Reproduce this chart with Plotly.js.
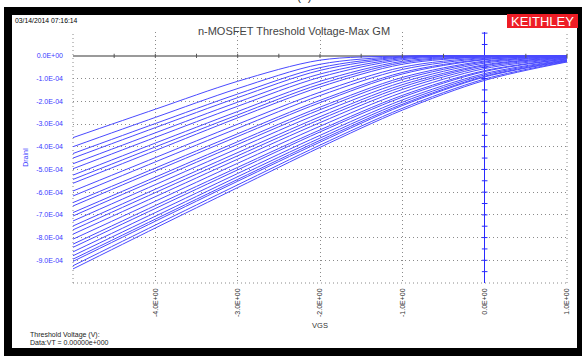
<!DOCTYPE html>
<html>
<head>
<meta charset="utf-8">
<script src="https://cdn.plot.ly/plotly-3.0.1.min.js"></script>
<style>html,body{margin:0;padding:0;background:#fff;}#chart{width:582px;height:356px;}</style>
</head>
<body>
<div id="chart"></div>
<script>
// ---- data ----
const vgs = [-5, -4, -3, -2, -1, 0, 1];
const drainCurves = [
  [-3.60e-4, -2.35e-4, -1.12e-4, -0.19e-4, -0.01e-4, 0, 0],
  [-4.00e-4, -2.71e-4, -1.44e-4, -0.37e-4, -0.03e-4, 0, 0],
  [-4.30e-4, -2.98e-4, -1.68e-4, -0.52e-4, -0.05e-4, 0, 0],
  [-4.50e-4, -3.16e-4, -1.84e-4, -0.64e-4, -0.08e-4, -0.01e-4, 0],
  [-4.75e-4, -3.39e-4, -2.04e-4, -0.80e-4, -0.12e-4, -0.01e-4, 0],
  [-4.97e-4, -3.59e-4, -2.22e-4, -0.94e-4, -0.17e-4, -0.02e-4, 0],
  [-5.25e-4, -3.84e-4, -2.45e-4, -1.12e-4, -0.24e-4, -0.03e-4, 0],
  [-5.44e-4, -4.01e-4, -2.60e-4, -1.25e-4, -0.30e-4, -0.04e-4, 0],
  [-5.61e-4, -4.17e-4, -2.73e-4, -1.37e-4, -0.37e-4, -0.05e-4, -0.01e-4],
  [-5.95e-4, -4.48e-4, -3.01e-4, -1.60e-4, -0.50e-4, -0.08e-4, -0.01e-4],
  [-6.17e-4, -4.67e-4, -3.19e-4, -1.75e-4, -0.60e-4, -0.11e-4, -0.01e-4],
  [-6.46e-4, -4.94e-4, -3.43e-4, -1.96e-4, -0.73e-4, -0.15e-4, -0.02e-4],
  [-6.61e-4, -5.07e-4, -3.55e-4, -2.06e-4, -0.80e-4, -0.17e-4, -0.03e-4],
  [-6.90e-4, -5.34e-4, -3.78e-4, -2.26e-4, -0.95e-4, -0.23e-4, -0.03e-4],
  [-7.05e-4, -5.47e-4, -3.90e-4, -2.37e-4, -1.04e-4, -0.27e-4, -0.04e-4],
  [-7.27e-4, -5.67e-4, -4.08e-4, -2.52e-4, -1.16e-4, -0.32e-4, -0.05e-4],
  [-7.49e-4, -5.87e-4, -4.26e-4, -2.68e-4, -1.27e-4, -0.39e-4, -0.06e-4],
  [-7.66e-4, -6.02e-4, -4.40e-4, -2.80e-4, -1.37e-4, -0.43e-4, -0.07e-4],
  [-7.85e-4, -6.20e-4, -4.55e-4, -2.94e-4, -1.48e-4, -0.49e-4, -0.09e-4],
  [-8.07e-4, -6.40e-4, -4.73e-4, -3.10e-4, -1.61e-4, -0.56e-4, -0.11e-4],
  [-8.29e-4, -6.59e-4, -4.91e-4, -3.26e-4, -1.74e-4, -0.65e-4, -0.13e-4],
  [-8.43e-4, -6.72e-4, -5.02e-4, -3.35e-4, -1.82e-4, -0.69e-4, -0.14e-4],
  [-8.63e-4, -6.90e-4, -5.18e-4, -3.50e-4, -1.94e-4, -0.78e-4, -0.17e-4],
  [-8.80e-4, -7.06e-4, -5.32e-4, -3.62e-4, -2.04e-4, -0.84e-4, -0.19e-4],
  [-8.95e-4, -7.19e-4, -5.44e-4, -3.72e-4, -2.13e-4, -0.90e-4, -0.21e-4],
  [-9.05e-4, -7.28e-4, -5.52e-4, -3.80e-4, -2.19e-4, -0.93e-4, -0.23e-4],
  [-9.24e-4, -7.45e-4, -5.68e-4, -3.93e-4, -2.31e-4, -1.02e-4, -0.25e-4],
  [-9.38e-4, -7.58e-4, -5.80e-4, -4.03e-4, -2.39e-4, -1.08e-4, -0.27e-4]
];
const xTickVals = [-4, -3, -2, -1, 0, 1];
const xTickText = ['-4.0E+00', '-3.0E+00', '-2.0E+00', '-1.0E+00', '0.0E+00', '1.0E+00'];
const yTickVals = [0, -1e-4, -2e-4, -3e-4, -4e-4, -5e-4, -6e-4, -7e-4, -8e-4, -9e-4];
const yTickText = ['0.0E+00', '-1.0E-04', '-2.0E-04', '-3.0E-04', '-4.0E-04', '-5.0E-04', '-6.0E-04', '-7.0E-04', '-8.0E-04', '-9.0E-04'];
const zeroLineTickV = [-4.5, -4, -3.5, -3, -2.5, -2, -1.5, -1, -0.5, 0.5, 1];
const vgsZeroTickI = [1e-4, 0.5e-4, -0.5e-4, -1e-4, -1.5e-4, -2e-4, -2.5e-4, -3e-4, -3.5e-4, -4e-4, -4.5e-4, -5e-4, -5.5e-4, -6e-4, -6.5e-4, -7e-4, -7.5e-4, -8e-4, -8.5e-4, -9e-4, -9.5e-4];

// ---- layout geometry (pixels) ----
const W = 582, H = 356;
const L = 73, R = 567, T = 32, B = 283;
const PW = R - L, PH = B - T;
const px = p => (p - L) / PW;
const py = p => (B - p) / PH;
const FONT = '"Liberation Sans", Arial, sans-serif';

const traces = drainCurves.map(c => ({
  x: vgs, y: c, type: 'scatter', mode: 'lines',
  line: {color: '#4a4aff', width: 1, shape: 'spline', smoothing: 0.9},
  hoverinfo: 'skip', showlegend: false
}));
traces.push({
  x: zeroLineTickV, y: zeroLineTickV.map(() => 0), type: 'scatter', mode: 'markers',
  marker: {symbol: 'line-ns', size: 3, line: {width: 1, color: '#555'}},
  hoverinfo: 'skip', showlegend: false, cliponaxis: false
});
traces.push({
  x: vgsZeroTickI.map(() => 0), y: vgsZeroTickI, type: 'scatter', mode: 'markers',
  marker: {symbol: 'line-ew', size: 4, line: {width: 1, color: '#2a2aff'}},
  hoverinfo: 'skip', showlegend: false, cliponaxis: false
});

const layout = {
  width: W, height: H,
  margin: {l: L, r: W - R, t: T, b: H - B, pad: 0},
  paper_bgcolor: '#ffffff', plot_bgcolor: '#ffffff',
  font: {family: FONT, size: 7, color: '#222'},
  showlegend: false,
  title: {text: 'n-MOSFET Threshold Voltage-Max GM', font: {family: FONT, size: 11, color: '#444'},
          x: 294 / W, xanchor: 'center', y: 1 - 31 / H, yanchor: 'middle', xref: 'container', yref: 'container'},
  xaxis: {
    range: [-5, 1], tickmode: 'array', tickvals: xTickVals, ticktext: xTickText,
    tickangle: -90, ticks: '', ticklabelstandoff: 3,
    tickfont: {family: FONT, size: 7, color: '#333'},
    showgrid: true, gridcolor: '#8a8a8a', gridwidth: 1, griddash: '1px,3px',
    zeroline: true, zerolinecolor: '#2a2aff', zerolinewidth: 1.5,
    showline: false, fixedrange: true,
    title: {text: 'VGS', font: {family: FONT, size: 7.5, color: '#333'}, standoff: 6}
  },
  yaxis: {
    range: [-1e-3, 1.05e-4], tickmode: 'array', tickvals: yTickVals, ticktext: yTickText,
    ticks: '', ticklabelstandoff: 9,
    tickfont: {family: FONT, size: 7, color: '#3a3aff'},
    showgrid: true, gridcolor: '#8a8a8a', gridwidth: 1, griddash: '1px,3px',
    zeroline: true, zerolinecolor: '#9a9a9a', zerolinewidth: 2,
    showline: false, fixedrange: true,
    title: {text: 'DrainI', font: {family: FONT, size: 7, color: '#3a3aff'}, standoff: 6}
  },
  shapes: [
    {type: 'rect', xref: 'paper', yref: 'paper', x0: px(4), x1: px(582), y0: py(356), y1: py(7),
     fillcolor: '#000', line: {width: 0}, layer: 'below'},
    {type: 'rect', xref: 'paper', yref: 'paper', x0: px(12), x1: px(577), y0: py(348), y1: py(15),
     fillcolor: '#fff', line: {width: 0}, layer: 'below'},
    {type: 'rect', xref: 'paper', yref: 'paper', x0: px(507), x1: px(578), y0: py(28), y1: py(14),
     fillcolor: '#ee1c25', line: {width: 0}, layer: 'above'},
    {type: 'line', xref: 'paper', yref: 'paper', x0: 0, x1: 0, y0: 0, y1: 1,
     line: {color: '#8a8a8a', width: 1, dash: '1px,3px'}, layer: 'below'},
    {type: 'line', xref: 'paper', yref: 'paper', x0: 1, x1: 1, y0: 0, y1: 1,
     line: {color: '#8a8a8a', width: 1, dash: '1px,3px'}, layer: 'below'},
    {type: 'line', xref: 'paper', yref: 'paper', x0: 0, x1: 1, y0: 0, y1: 0,
     line: {color: '#8a8a8a', width: 1, dash: '1px,3px'}, layer: 'below'}
  ],
  annotations: [
    {text: '(a)', xref: 'paper', yref: 'paper', x: px(304), y: py(-4), xanchor: 'center', yanchor: 'middle',
     showarrow: false, font: {family: FONT, size: 12, color: '#333'}},
    {text: '03/14/2014 07:16:14', xref: 'paper', yref: 'paper', x: px(13), y: py(20), xanchor: 'left', yanchor: 'middle',
     showarrow: false, font: {family: FONT, size: 6.8, color: '#000'}},
    {text: 'KEITHLEY', xref: 'paper', yref: 'paper', x: px(542.5), y: py(21), xanchor: 'center', yanchor: 'middle',
     showarrow: false, font: {family: FONT, size: 13, color: '#fff'}},
    {text: 'Threshold Voltage (V):', xref: 'paper', yref: 'paper', x: px(28), y: py(335), xanchor: 'left', yanchor: 'middle',
     showarrow: false, font: {family: FONT, size: 7, color: '#222'}},
    {text: 'Data:VT = 0.00000e+000', xref: 'paper', yref: 'paper', x: px(28), y: py(342.5), xanchor: 'left', yanchor: 'middle',
     showarrow: false, font: {family: FONT, size: 7, color: '#222'}}
  ]
};

Plotly.newPlot('chart', traces, layout, {displayModeBar: false, staticPlot: true});
</script>
</body>
</html>
